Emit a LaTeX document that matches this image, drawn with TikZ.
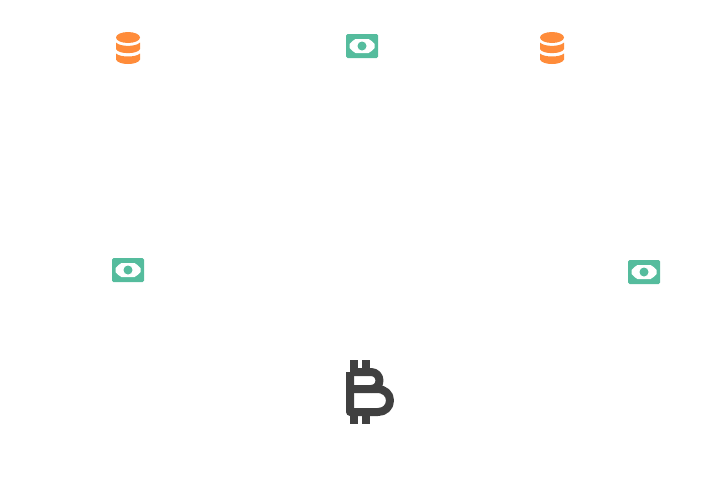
\documentclass[tikz,border=0pt]{standalone}
\usepackage{xcolor}
\usepackage{tikz}
\definecolor{coinorange}{HTML}{FF8C3A}
\definecolor{notegreen}{HTML}{55BC9D}
\definecolor{btcgrey}{HTML}{404040}
\tikzset{
	coins/.pic = {
		\fill[coinorange] (0,-10.5) ellipse (12 and 5.5);
		\fill[coinorange] (-12,-5.5) .. controls (-8,-1) and (8,-1) .. (12,-5.5) -- (12,1)
			.. controls (10,6.5) and (-10,6.5) .. (-12,1) -- cycle;
		\fill[coinorange] (-12,5.5) .. controls (-8,9.5) and (8,9.5) .. (12,5.5) -- (12,11.5)
			.. controls (10,17.5) and (-10,17.5) .. (-12,11.5) -- cycle;
	},
	banknote/.pic = {
		\fill[notegreen, rounded corners=1.5] (-16,-12) rectangle (16,12);
		\fill[white] (-12.5,-2) -- (-12.5,2) -- (-9.5,5) -- (-6.5,7) -- (6.5,7) -- (9.5,5)
			-- (12.5,2) -- (12.5,-2) -- (9.5,-5) -- (6.5,-7) -- (-6.5,-7) -- (-9.5,-5) -- cycle;
		\fill[notegreen] (0,0) circle (4.5);
	},
	bitcoin/.pic = {
		\fill[btcgrey] (-20,-32) rectangle (-12,-22);
		\fill[btcgrey] (-8,-32) rectangle (0,-22);
		\fill[btcgrey] (-20,22) rectangle (-12,32);
		\fill[btcgrey] (-8,22) rectangle (0,32);
		\draw[btcgrey, line width=8pt, line join=round]
			(-20,-20) -- (1,-20) .. controls (6,-20) and (9.5,-16) .. (9.5,-11.5)
			.. controls (9.5,-7) and (6,-3) .. (1,-3) -- (-20,-3);
		\draw[btcgrey, line width=8pt, line join=round]
			(-20,-20) -- (-20,20) -- (8,20) .. controls (15,20) and (20,15) .. (20,8.5)
			.. controls (20,2) and (15,-3) .. (7,-3) -- (1,-3);
	}
}
\begin{document}
\begin{tikzpicture}[x=1pt,y=-1pt]
	\useasboundingbox (0,0) rectangle (708,480);
	\coordinate (coinsleft) at (128,48);
	\coordinate (coinsright) at (552,48);
	\coordinate (notetop) at (362,46);
	\coordinate (noteleft) at (128,270);
	\coordinate (noteright) at (644,272);
	\coordinate (btc) at (370,392);
	\pic at (coinsleft) {coins};
	\pic at (coinsright) {coins};
	\pic at (notetop) {banknote};
	\pic at (noteleft) {banknote};
	\pic at (noteright) {banknote};
	\pic at (btc) {bitcoin};
\end{tikzpicture}
\end{document}
